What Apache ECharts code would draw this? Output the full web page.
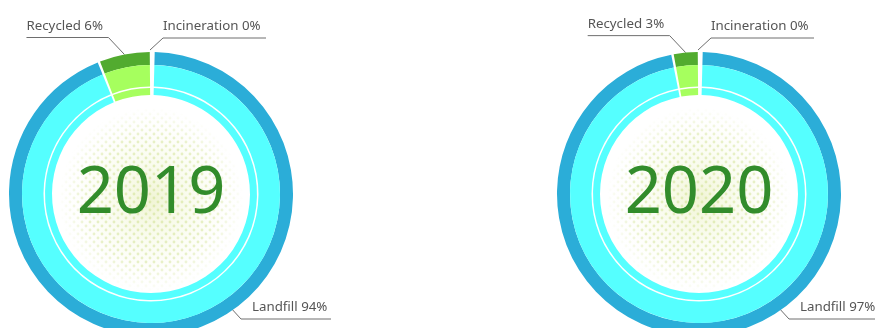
<!DOCTYPE html>
<html>
<head>
<meta charset="utf-8">
<script src="https://cdn.jsdelivr.net/npm/echarts@6/dist/echarts.min.js"></script>
<style>
html,body{margin:0;padding:0;background:#fff;}
#c{width:875px;height:328px;}
</style>
</head>
<body>
<div id="c"></div>
<script>
// ---- data ----
const years = ['2019', '2020'];
const categories = ['Incineration', 'Landfill', 'Recycled'];
const values2019 = [0, 94, 6];
const values2020 = [0, 97, 3];
const yearValues = [values2019, values2020];

// ---- style / layout ----
const centersX = [151, 699];
const CY = 194;
const outerColors = ['#2badd8', '#2badd8', '#52ab2f'];
const midColors = ['#55ffff', '#55ffff', '#a6ff5e'];
const FONT = 'Noto Sans';
const PER_CHART = 5;

const chart = echarts.init(document.getElementById('c'), null, {renderer: 'canvas'});

function labelLayout(p) {
  const k = Math.floor(p.seriesIndex / PER_CHART);
  const cx = centersX[k];
  const name = categories[p.dataIndex];
  let pts, x, y;
  if (name === 'Recycled') {
    const a = p.labelLinePoints[0];
    const bend = [a[0] - 16, a[1] - 17];
    const end = [bend[0] - 82, bend[1]];
    pts = [a, bend, end];
    x = end[0]; y = bend[1] - 5;
  } else if (name === 'Incineration') {
    const a = [cx - 1, CY - 144];
    const bend = [cx + 12, CY - 156];
    const end = [cx + 115, CY - 156];
    pts = [a, bend, end];
    x = bend[0]; y = bend[1] - 5;
  } else {
    const a = [cx + 79, CY + 113];
    const bend = [cx + 90, CY + 125];
    const end = [cx + 180, CY + 125];
    pts = [a, bend, end];
    x = cx + 101; y = bend[1] - 5;
  }
  return {x: x, y: y, align: 'left', verticalAlign: 'bottom', labelLinePoints: pts};
}

const series = [];
years.forEach(function (yr, k) {
  const vals = yearValues[k];
  const center = [centersX[k], CY];
  const mk = function (colors) {
    return categories.map(function (c, i) {
      return {name: c, value: vals[i], itemStyle: {color: colors[i]}};
    });
  };
  series.push({
    type: 'pie', center: center, radius: [129, 142], startAngle: 90, clockwise: true,
    padAngle: 1, avoidLabelOverlap: false, silent: true, animation: false,
    data: mk(outerColors),
    label: {show: true, position: 'outside', formatter: '{b} {c}%', color: '#555',
            fontFamily: FONT, fontSize: 13.3},
    labelLine: {show: true, lineStyle: {color: '#6e6e6e', width: 1}},
    labelLayout: labelLayout
  });
  series.push({
    type: 'pie', center: center, radius: [107.5, 129], startAngle: 90, padAngle: 1,
    silent: true, animation: false, data: mk(midColors),
    label: {show: false}, labelLine: {show: false}
  });
  series.push({
    type: 'pie', center: center, radius: [99, 106], startAngle: 90, padAngle: 1,
    silent: true, animation: false, data: mk(midColors),
    label: {show: false}, labelLine: {show: false}
  });
  series.push({
    type: 'pie', center: center, radius: [0, 97], silent: true, animation: false,
    data: [{value: 1, name: yr, itemStyle: {
      color: {type: 'radial', x: 0.5, y: 0.53, r: 0.5, colorStops: [
        {offset: 0, color: 'rgba(238,243,205,0.85)'},
        {offset: 0.6, color: 'rgba(247,250,230,0.45)'},
        {offset: 1, color: 'rgba(255,255,255,0)'}]},
      decal: {symbol: 'circle', color: 'rgba(222,234,175,1)', symbolSize: 0.72,
              dashArrayX: [[3.2, 3.2], [0, 3.2, 3.2, 0]], dashArrayY: [3.2, 0]}
    }}],
    label: {show: false}, labelLine: {show: false}
  });
  series.push({
    type: 'pie', center: center, radius: [0, 98], silent: true, animation: false,
    data: [{value: 1, name: yr, itemStyle: {
      color: {type: 'radial', x: 0.5, y: 0.53, r: 0.5, colorStops: [
        {offset: 0, color: 'rgba(255,255,255,0)'},
        {offset: 0.65, color: 'rgba(255,255,255,0.3)'},
        {offset: 0.94, color: 'rgba(255,255,255,1)'},
        {offset: 1, color: 'rgba(255,255,255,1)'}]}
    }}],
    label: {show: true, position: 'center', formatter: '{b}', color: '#328c2b',
            fontFamily: FONT, fontSize: 65, offset: [0, 0]},
    labelLine: {show: false}
  });
});

chart.setOption({animation: false, backgroundColor: '#fff', series: series});
</script>
</body>
</html>
